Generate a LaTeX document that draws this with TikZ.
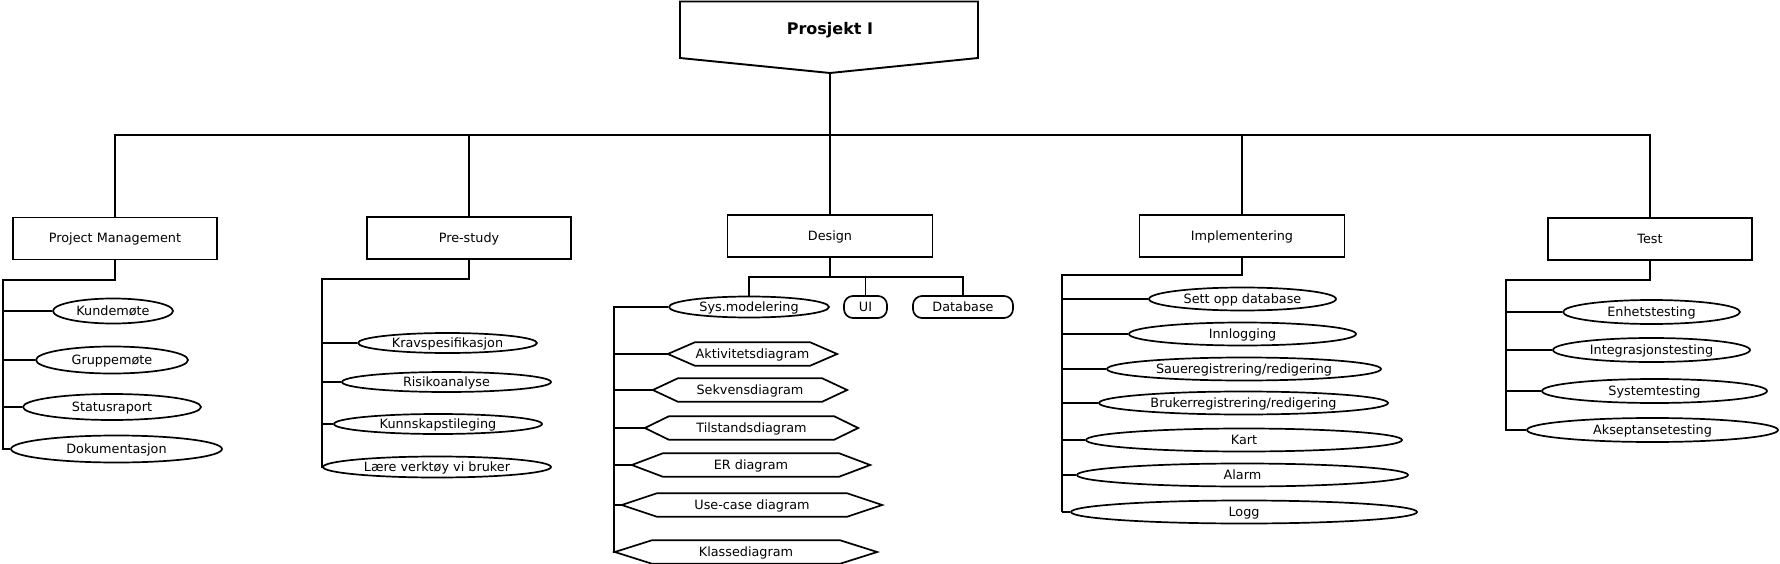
\documentclass[tikz,border=0pt]{standalone}
\usepackage{fontspec}
\setmainfont{DejaVu Sans}
\usetikzlibrary{shapes.geometric}
\newcommand\hexoutline[2]{\draw[line width=1.7pt] ([xshift=#2]#1.north west) -- ([xshift=-#2]#1.north east) -- (#1.east) -- ([xshift=-#2]#1.south east) -- ([xshift=#2]#1.south west) -- (#1.west) -- cycle;}
\begin{document}
\begin{tikzpicture}[x=1pt,y=-1pt,
  every node/.style={font=\fontsize{12.8}{15}\selectfont, inner sep=0pt},
  conn/.style={line width=1.9pt},
  thickconn/.style={line width=2.8pt},
  box/.style={draw, line width=1.9pt, rectangle, minimum height=42, text height=10, text depth=1.5},
  oval/.style={draw, line width=1.7pt, ellipse, text height=10, text depth=1.5},
  rbox/.style={draw, line width=1.7pt, rounded corners=9, minimum height=22, text height=10, text depth=1.5},
  hexn/.style={minimum height=23, text height=10, text depth=1.5}]
\useasboundingbox (0,0) rectangle (1780,564);

% root
\node[font=\fontsize{16}{19}\selectfont\bfseries] (root) at (830,30) {Prosjekt I};
\coordinate (rootpt) at (830,73);
\draw[line width=1.9pt] (680,1.5) -- (978,1.5) -- (978,58) -- (rootpt) -- (680,58) -- cycle;

% level 1
\node[box, minimum width=204] (pm) at (115,238.5) {Project Management};
\node[box, minimum width=204] (ps) at (469,238) {Pre-study};
\node[box, minimum width=205] (design) at (830,236) {Design};
\node[box, minimum width=205] (impl) at (1242,236) {Implementering};
\node[box, minimum width=204] (test) at (1650,239) {Test};

\coordinate (bus) at (830,135);
\draw[thickconn] (rootpt) -- (bus);
\draw[conn] (bus) -- (design.north);
\draw[conn] (pm.north) |- (bus -| test.north) -- (test.north);
\draw[conn] (ps.north) -- (ps.north |- bus);
\draw[conn] (impl.north) -- (impl.north |- bus);

% Project Management
\node[oval, minimum width=120, minimum height=25] (kunde) at (113,311) {Kundemøte};
\node[oval, minimum width=152, minimum height=27] (gruppe) at (112,360) {Gruppemøte};
\node[oval, minimum width=178, minimum height=26] (status) at (112,407) {Statusraport};
\node[oval, minimum width=211, minimum height=27] (dok) at (116.5,449) {Dokumentasjon};
\coordinate (pmx) at (3,280);
\draw[conn] (pm.south) |- (pmx) |- (dok.west);
\foreach \n in {kunde,gruppe,status} \draw[conn] (\n.west) -- (\n.west -| pmx);

% Pre-study
\node[oval, minimum width=179, minimum height=20] (krav) at (447.5,343) {Kravspesifikasjon};
\node[oval, minimum width=209, minimum height=20] (risiko) at (446.5,382) {Risikoanalyse};
\node[oval, minimum width=208, minimum height=20] (kunn) at (438,424) {Kunnskapstileging};
\node[oval, minimum width=228, minimum height=21] (laere) at (437,467) {Lære verktøy vi bruker};
\coordinate (psx) at (322,279);
\draw[conn] (ps.south) |- (psx) |- (laere.west);
\foreach \n in {krav,risiko,kunn} \draw[conn] (\n.west) -- (\n.west -| psx);

% Design
\node[oval, minimum width=160, minimum height=21] (sys) at (749,307) {Sys.modelering};
\node[rbox, minimum width=43] (ui) at (865.5,307) {UI};
\node[rbox, minimum width=100] (db) at (963,307) {Database};
\coordinate (dbus) at (830,277);
\draw[thickconn] (design.south) -- (dbus);
\draw[conn] (sys.north) |- (dbus -| db.north) -- (db.north);
\draw[conn] (ui.north) -- (ui.north |- dbus);

\node[hexn, minimum width=169] (akt) at (752.5,354) {Aktivitetsdiagram};
\node[hexn, minimum width=194] (sek) at (750,390) {Sekvensdiagram};
\node[hexn, minimum width=213] (til) at (751.5,428) {Tilstandsdiagram};
\node[hexn, minimum width=238] (er) at (751,465) {ER diagram};
\node[hexn, minimum width=260] (use) at (752,505) {Use-case diagram};
\node[hexn, minimum width=262] (klasse) at (746,552) {Klassediagram};
\hexoutline{akt}{27}
\hexoutline{sek}{25}
\hexoutline{til}{24}
\hexoutline{er}{31}
\hexoutline{use}{35}
\hexoutline{klasse}{37}
\coordinate (sysx) at (614,307);
\draw[thickconn] (sys.west) -- (sysx) |- (klasse.west);
\foreach \n in {akt,sek,til,er,use} \draw[conn] (\n.west) -- (\n.west -| sysx);

% Implementering
\node[oval, minimum width=187, minimum height=23] (sett) at (1242.5,299) {Sett opp database};
\node[oval, minimum width=227, minimum height=23] (inn) at (1242.5,334) {Innlogging};
\node[oval, minimum width=274, minimum height=23] (saue) at (1244,369) {Saueregistrering/redigering};
\node[oval, minimum width=289, minimum height=23] (bruker) at (1243.5,403) {Brukerregistrering/redigering};
\node[oval, minimum width=316, minimum height=23] (kart) at (1244,440) {Kart};
\node[oval, minimum width=331, minimum height=23] (alarm) at (1242.5,475) {Alarm};
\node[oval, minimum width=346, minimum height=23] (logg) at (1244,512) {Logg};
\coordinate (implx) at (1062,275);
\draw[thickconn] (impl.south) |- (implx) -- (implx |- logg.west);
\draw[conn] (implx |- logg.west) -- (logg.west);
\foreach \n in {sett,inn,saue,bruker,kart,alarm} \draw[conn] (\n.west) -- (\n.west -| implx);

% Test
\node[oval, minimum width=177, minimum height=24] (enhet) at (1651.5,312) {Enhetstesting};
\node[oval, minimum width=197, minimum height=24] (integ) at (1651.5,350) {Integrasjonstesting};
\node[oval, minimum width=225, minimum height=24] (system) at (1654.5,391) {Systemtesting};
\node[oval, minimum width=251, minimum height=24] (aksept) at (1652.5,430) {Akseptansetesting};
\coordinate (testx) at (1506,280);
\draw[conn] (test.south) |- (testx) |- (aksept.west);
\foreach \n in {enhet,integ,system} \draw[conn] (\n.west) -- (\n.west -| testx);
\end{tikzpicture}
\end{document}
